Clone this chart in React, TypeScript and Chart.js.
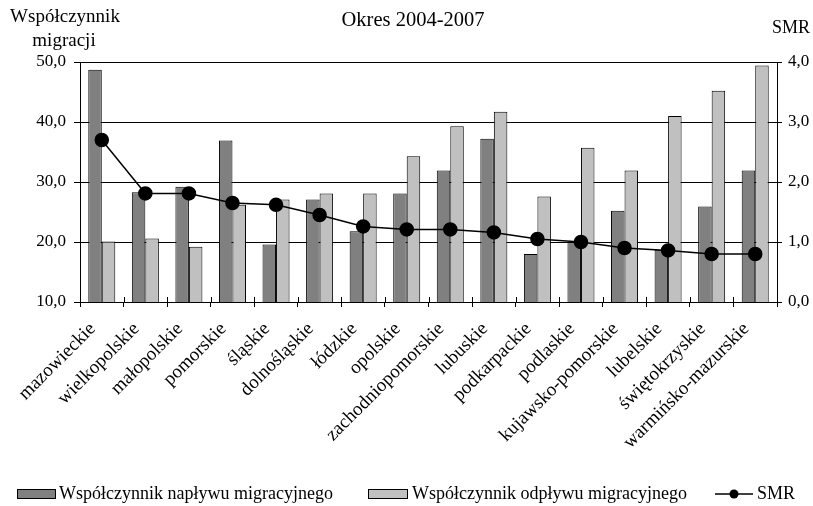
import React, { useEffect, useRef } from "react";
import { Chart, registerables } from "chart.js";

Chart.register(...registerables);

const categories = [
  "mazowieckie", "wielkopolskie", "małopolskie", "pomorskie", "śląskie",
  "dolnośląskie", "łódzkie", "opolskie", "zachodniopomorskie", "lubuskie",
  "podkarpackie", "podlaskie", "kujawsko-pomorskie", "lubelskie",
  "świętokrzyskie", "warmińsko-mazurskie",
];
const inflow = [48.7, 28.3, 29.2, 36.9, 19.6, 27.1, 21.8, 28.1, 31.9, 37.2, 18.0, 20.0, 25.2, 18.7, 25.9, 31.9];
const outflow = [20.1, 20.6, 19.2, 26.2, 27.1, 28.1, 28.1, 34.3, 39.3, 41.7, 27.6, 35.7, 31.9, 41.0, 45.2, 49.4];
const smr = [2.7, 1.81, 1.81, 1.65, 1.62, 1.45, 1.26, 1.21, 1.21, 1.16, 1.05, 1.0, 0.9, 0.86, 0.8, 0.8];
const seriesNames = ["Współczynnik napływu migracyjnego", "Współczynnik odpływu migracyjnego", "SMR"];
const titleText = "Okres 2004-2007";
const leftAxisTitle = ["Współczynnik", "migracji"];
const rightAxisTitle = "SMR";

const FONT = "'Liberation Serif', 'Times New Roman', serif";
const DARK = "#808080";
const LIGHT = "#c0c0c0";

const fmt = (v: number) => v.toFixed(1).replace(".", ",");

const textPlugin = {
  id: "textPlugin",
  afterDatasetsDraw(chart: any) {
    // inner half of the x-axis tick marks (they cross the axis line)
    const ctx = chart.ctx as CanvasRenderingContext2D;
    const xs = chart.scales.x;
    const area = chart.chartArea;
    const n = categories.length;
    const step = (area.right - area.left) / n;
    ctx.save();
    ctx.strokeStyle = "#000";
    ctx.lineWidth = 1;
    for (let i = 1; i < n; i++) {
      const x = Math.round(xs.getPixelForValue(i) - step / 2) + 0.5;
      ctx.beginPath();
      ctx.moveTo(x, area.bottom - 5);
      ctx.lineTo(x, area.bottom);
      ctx.stroke();
    }
    ctx.restore();
  },
  afterDraw(chart: any) {
    const ctx = chart.ctx as CanvasRenderingContext2D;
    ctx.save();
    ctx.fillStyle = "#000";
    ctx.textBaseline = "middle";
    ctx.textAlign = "center";
    ctx.font = `20.5px ${FONT}`;
    ctx.fillText(titleText, 413, 21);
    ctx.font = `19px ${FONT}`;
    ctx.fillText(leftAxisTitle[0], 65, 17);
    ctx.fillText(leftAxisTitle[1], 64, 41);
    ctx.font = `18px ${FONT}`;
    ctx.fillText(rightAxisTitle, 791, 28);

    // legend
    const ly = 494;
    ctx.textAlign = "left";
    ctx.font = `18px ${FONT}`;
    ctx.lineWidth = 1;
    ctx.strokeStyle = "#000";
    ctx.fillStyle = DARK;
    ctx.fillRect(17.5, 489.5, 38, 9);
    ctx.strokeRect(17.5, 489.5, 38, 9);
    ctx.fillStyle = "#000";
    ctx.fillText(seriesNames[0], 59, ly);
    ctx.fillStyle = LIGHT;
    ctx.fillRect(368.5, 489.5, 39, 9);
    ctx.strokeRect(368.5, 489.5, 39, 9);
    ctx.fillStyle = "#000";
    ctx.fillText(seriesNames[1], 412, ly);
    ctx.lineWidth = 1.5;
    ctx.beginPath();
    ctx.moveTo(715, ly);
    ctx.lineTo(753, ly);
    ctx.stroke();
    ctx.beginPath();
    ctx.arc(734, ly, 4.5, 0, Math.PI * 2);
    ctx.fill();
    ctx.fillText(seriesNames[2], 757, ly);
    ctx.restore();
  },
};

export default function App() {
  const ref = useRef<HTMLCanvasElement>(null);
  useEffect(() => {
    if (!ref.current) return;
    const chart = new Chart(ref.current, {
      type: "bar",
      data: {
        labels: categories,
        datasets: [
          {
            type: "line",
            label: seriesNames[2],
            data: smr,
            yAxisID: "y1",
            borderColor: "#000",
            borderWidth: 1.5,
            backgroundColor: "#000",
            pointRadius: 6.5,
            pointBackgroundColor: "#000",
            pointBorderColor: "#000",
            tension: 0,
            order: 0,
          } as any,
          {
            type: "bar",
            label: seriesNames[0],
            data: inflow,
            yAxisID: "y",
            backgroundColor: DARK,
            borderColor: "#000",
            borderWidth: 1,
            categoryPercentage: 0.62,
            barPercentage: 1,
            order: 1,
          },
          {
            type: "bar",
            label: seriesNames[1],
            data: outflow,
            yAxisID: "y",
            backgroundColor: LIGHT,
            borderColor: "#000",
            borderWidth: 1,
            categoryPercentage: 0.62,
            barPercentage: 1,
            order: 2,
          },
        ],
      },
      options: {
        responsive: false,
        animation: false,
        devicePixelRatio: 1,
        layout: { padding: { top: 62, left: 0, right: 0, bottom: 0 } },
        plugins: {
          legend: { display: false },
          tooltip: { enabled: false },
          title: { display: false },
        },
        scales: {
          x: {
            offset: true,
            grid: {
              offset: true,
              drawOnChartArea: false,
              drawTicks: true,
              tickLength: 5,
              color: "#000",
            },
            border: { color: "#000", width: 1 },
            ticks: {
              color: "#000",
              font: { family: FONT, size: 19 },
              minRotation: 45,
              maxRotation: 45,
              autoSkip: false,
              padding: 11,
              labelOffset: -9,
            },
            afterFit(scale: any) {
              scale.height = 204;
            },
          },
          y: {
            position: "left",
            min: 10,
            max: 50,
            ticks: {
              stepSize: 10,
              color: "#000",
              font: { family: FONT, size: 17 },
              padding: 8,
              callback: (v: any) => fmt(Number(v)),
            },
            grid: { color: "#000", lineWidth: 1, tickLength: 6 },
            border: { color: "#000", width: 1 },
            afterFit(scale: any) {
              scale.width = 80;
            },
          },
          y1: {
            position: "right",
            min: 0,
            max: 4,
            ticks: {
              stepSize: 1,
              color: "#000",
              font: { family: FONT, size: 17 },
              padding: 6,
              callback: (v: any) => fmt(Number(v)),
            },
            grid: { drawOnChartArea: false, color: "#000", tickLength: 5 },
            border: { color: "#000", width: 1 },
            afterFit(scale: any) {
              scale.width = 36;
            },
          },
        },
      },
      plugins: [textPlugin],
    });
    return () => chart.destroy();
  }, []);
  return (
    <div style={{ position: "fixed", left: 0, top: 0, width: 813, height: 506, background: "#fff" }}>
      <canvas ref={ref} width={813} height={506} />
    </div>
  );
}
